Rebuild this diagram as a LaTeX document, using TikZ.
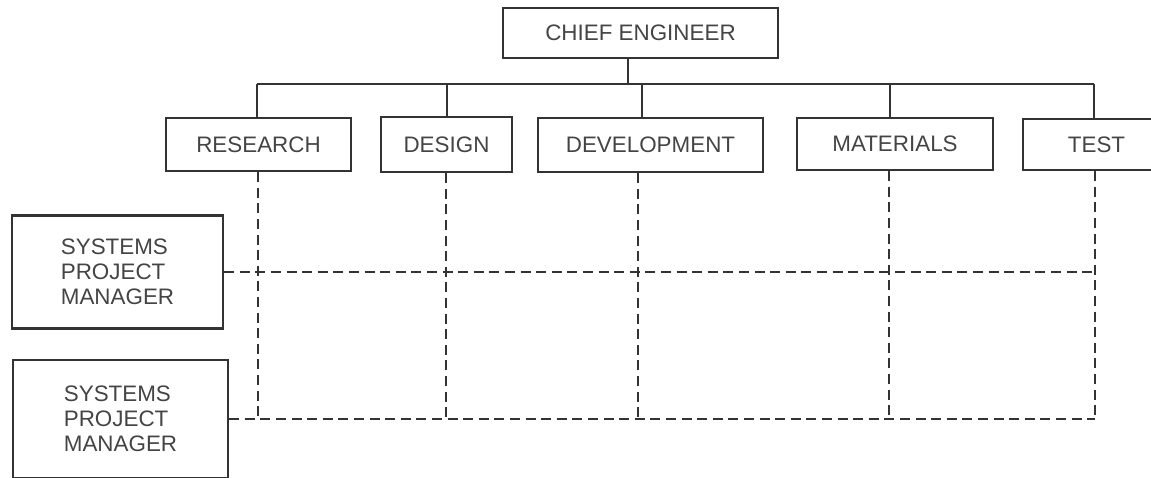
\documentclass[tikz,border=0pt]{standalone}
\usepackage{fontspec}
\setmainfont{Liberation Sans}
\definecolor{ink}{HTML}{333333}
\definecolor{txt}{HTML}{444444}
\begin{document}
\begin{tikzpicture}[x=0.5pt,y=-0.5pt,
  box/.style={draw=ink, line width=1.1pt, inner sep=0pt, text=txt, font=\fontsize{11.2pt}{12.5pt}\selectfont},
  solidline/.style={draw=ink, line width=1.1pt},
  dashline/.style={draw=ink, line width=1.1pt, dash pattern=on 5pt off 2.8pt}]
\useasboundingbox (0,0) rectangle (1151,477);
\clip (0,0) rectangle (1151,477);
% boxes
\node[box, minimum width=137.5pt, minimum height=25pt] (chief) at (640.5,33) {CHIEF ENGINEER};
\node[box, minimum width=92.5pt, minimum height=26.5pt] (research) at (258.5,144.5) {RESEARCH};
\node[box, minimum width=65.5pt, minimum height=27.5pt] (design) at (446.5,144.5) {DESIGN};
\node[box, minimum width=112.5pt, minimum height=27pt] (dev) at (650.5,145) {DEVELOPMENT};
\node[box, minimum width=98pt, minimum height=26pt] (mat) at (895,144) {MATERIALS};
\node[box, minimum width=73.5pt, minimum height=25.5pt] (test) at (1096.5,144.5) {TEST};
\node[box, minimum width=105.5pt, minimum height=56.5pt, align=left] (spma) at (117.5,272) {SYSTEMS\\PROJECT\\MANAGER};
\node[box, minimum width=107.5pt, minimum height=59pt, align=left] (spmb) at (120.5,419) {SYSTEMS\\PROJECT\\MANAGER};
% solid tree
\coordinate (bus) at (628,84);
\coordinate (tR) at (257,84);
\coordinate (tD) at (447,84);
\coordinate (tV) at (642,84);
\coordinate (tM) at (890,84);
\coordinate (tT) at (1094,84);
\draw[solidline] (chief.south -| bus) -- (bus);
\draw[solidline] (tR) -- (tT);
\draw[solidline] (tR) -- (tR |- research.north);
\draw[solidline] (tD) -- (tD |- design.north);
\draw[solidline] (tV) -- (tV |- dev.north);
\draw[solidline] (tM) -- (tM |- mat.north);
\draw[solidline] (tT) -- (tT |- test.north);
% dashed matrix
\coordinate (bR) at (258,419);
\coordinate (bD) at (446,419);
\coordinate (bV) at (638,419);
\coordinate (bM) at (889,419);
\coordinate (bT) at (1095,419);
\draw[dashline] (research.south -| bR) -- (bR);
\draw[dashline] (design.south -| bD) -- (bD);
\draw[dashline] (dev.south -| bV) -- (bV);
\draw[dashline] (mat.south -| bM) -- (bM);
\draw[dashline] (test.south -| bT) -- (bT);
\draw[dashline] (spma.east) -- (spma.east -| bT);
\draw[dashline] (spmb.east) -- (bT);
\end{tikzpicture}
\end{document}
